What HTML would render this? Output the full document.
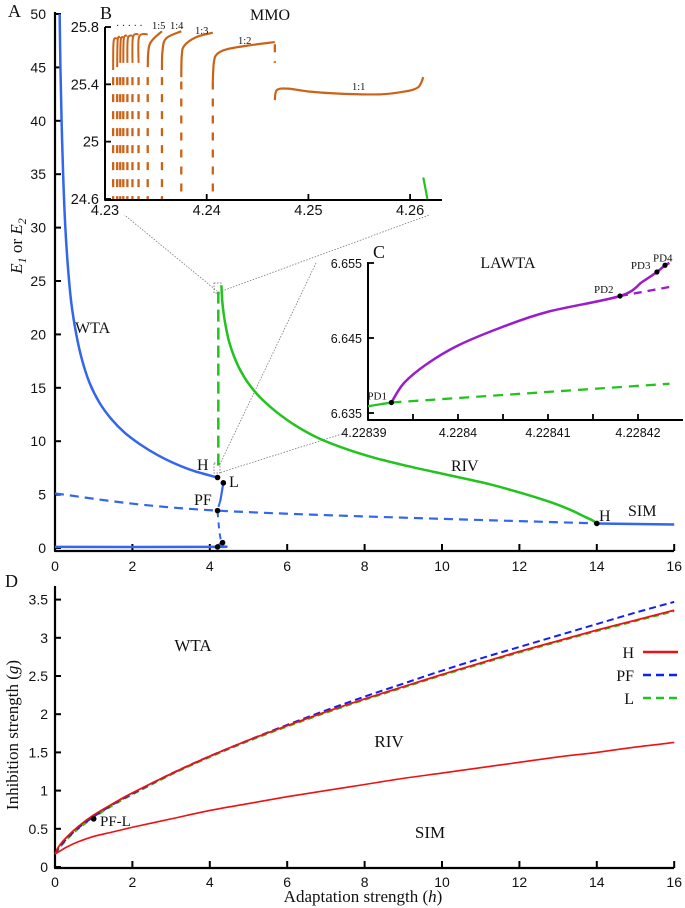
<!DOCTYPE html>
<html><head><meta charset="utf-8">
<style>
html,body{margin:0;padding:0;background:#fff;}
svg{display:block;}
.tk{font-family:"Liberation Sans",sans-serif;font-size:14px;fill:#111;}
.tkb{font-family:"Liberation Sans",sans-serif;font-size:14.5px;fill:#111;}
.tks{font-family:"Liberation Sans",sans-serif;font-size:12.5px;fill:#111;}
.sf{font-family:"Liberation Serif",serif;fill:#111;}
</style></head>
<body>
<svg id="fig" width="685" height="908" viewBox="0 0 685 908" xmlns="http://www.w3.org/2000/svg"></svg>
<script>
// ===== Panel A data =====
const aXTicks=[0,2,4,6,8,10,12,14,16];
const aYTicks=[0,5,10,15,20,25,30,35,40,45,50];
const wtaH=[0.12,0.14,0.17,0.21,0.26,0.33,0.42,0.55,0.7,0.9,1.15,1.45,1.8,2.2,2.65,3.1,3.6,4.2];
const wtaE=[50,45,40,35,30.5,26.5,23,20,17.6,15.4,13.6,12.1,10.8,9.7,8.7,7.9,7.2,6.6];
const midDashH=[0,4.2,14];
const midDashE=[5.1,3.5,2.3];
const simH=[14,16];
const simE=[2.3,2.2];
const lowH=[0,4.1,4.2,4.3];
const lowE=[0.1,0.1,0.2,0.5];
const lBranchH=[4.35,4.3,4.27];
const lBranchE=[6.1,5.0,4.4];
const lDashH=[4.27,4.22,4.2,4.25,4.3];
const lDashE=[4.4,3.8,3.5,1.5,0.5];
const rivH=[4.3,4.32,4.36,4.42,4.5,4.62,4.78,5.0,5.3,5.7,6.2,6.8,7.5,8.3,9.2,10.2,11.2,12.1,12.8,13.3,13.65,13.88,14.0];
const rivE=[24.6,23.2,21.9,20.6,19.3,18.0,16.7,15.4,14.1,12.8,11.5,10.3,9.3,8.4,7.6,6.8,6.0,5.1,4.3,3.6,3.0,2.6,2.3];
const rivDashH=[4.22,4.22];
const rivDashE=[24.0,7.3];
const aPtsH=[4.2,4.35,4.2,14,4.2,4.33];
const aPtsE=[6.6,6.1,3.5,2.3,0.1,0.5];
// ===== Panel B data =====
const bXTicks=[4.23,4.24,4.25,4.26];
const bYTicks=[24.6,25,25.4,25.8];
const junctions=[4.2308,4.2312,4.2315,4.2318,4.2322,4.2327,4.2333,4.2342,4.2356,4.2375,4.2406,4.2467];
const junctionTop=[25.45,25.45,25.45,25.45,25.45,25.45,25.45,25.45,25.45,25.42,25.42,25.68];
const junctionBot=[24.6,24.6,24.6,24.6,24.6,24.6,24.6,24.6,24.6,24.6,24.6,25.55];
const smallLow=[25.5,25.52,25.55,25.55,25.55,25.55,25.55];
const smallTop=[25.72,25.73,25.73,25.74,25.74,25.75,25.75];
const b15H=[4.2342,4.2344,4.2356]; const b15V=[25.52,25.68,25.77];
const b14H=[4.2356,4.23565,4.2360,4.2375]; const b14V=[25.5,25.63,25.72,25.77];
const b13H=[4.2375,4.23755,4.2378,4.2390,4.2406]; const b13V=[25.45,25.6,25.67,25.73,25.76];
const b12H=[4.2406,4.2407,4.2410,4.2420,4.2440,4.2467]; const b12V=[25.42,25.55,25.61,25.645,25.67,25.695];
const b11H=[4.2467,4.2469,4.2480,4.2500,4.2530,4.2570,4.2595,4.2608,4.2613]; const b11V=[25.29,25.36,25.37,25.35,25.335,25.33,25.35,25.38,25.45];
const bGreenH=[4.2613,4.2617]; const bGreenV=[24.75,24.6];
// ===== Panel C data =====
const cYTicks=[6.635,6.645,6.655];
const cXTicks=[4.22839,4.228395,4.2284,4.228405,4.22841,4.228415,4.22842];
const cXLabels=["4.22839","","4.2284","","4.22841","","4.22842"];
const purpleH=[4.2283926,4.228394,4.2283965,4.2284,4.228405,4.22841,4.228418,4.2284205,4.2284221,4.228423,4.2284235];
const purpleV=[6.6364,6.639,6.6415,6.644,6.6465,6.6485,6.6506,6.6525,6.6538,6.6547,6.655];
const purpleDashH=[4.228418,4.2284235]; const purpleDashV=[6.6506,6.6518];
const cGreenH=[4.22839,4.2283926]; const cGreenV=[6.6359,6.6364];
const cGreenDashH=[4.2283926,4.2284235]; const cGreenDashV=[6.6364,6.6389];
const cPtsH=[4.2283926,4.228418,4.2284221,4.228423];
const cPtsV=[6.6364,6.6506,6.6538,6.6547];
const cPtsL=["PD1","PD2","PD3","PD4"];
// ===== Panel D data =====
const dXTicks=[0,2,4,6,8,10,12,14,16];
const dYTicks=[0,0.5,1,1.5,2,2.5,3,3.5];
const dH=[0,0.1,0.3,0.6,1,1.5,2,3,4,5,6,7,8,9,10,11,12,13,14,15,16];
const hUpper=[0.17,0.27,0.39,0.53,0.68,0.83,0.97,1.22,1.45,1.66,1.85,2.03,2.2,2.36,2.52,2.67,2.82,2.96,3.1,3.23,3.36];
const pfLine=[0.17,0.25,0.37,0.51,0.66,0.82,0.96,1.22,1.45,1.66,1.86,2.05,2.23,2.4,2.57,2.73,2.88,3.03,3.18,3.33,3.47];
const lLine=[0.17,0.24,0.36,0.5,0.65,0.81,0.95,1.21,1.44,1.65,1.84,2.02,2.19,2.35,2.51,2.66,2.81,2.95,3.09,3.22,3.35];
const hLower=[0.17,0.2,0.26,0.33,0.4,0.46,0.52,0.63,0.74,0.83,0.92,1.0,1.08,1.16,1.23,1.3,1.37,1.44,1.5,1.57,1.63];

const NS="http://www.w3.org/2000/svg";
const svg=document.getElementById('fig');
function mk(tag,attrs,parent){const e=document.createElementNS(NS,tag);for(const k in attrs)e.setAttribute(k,attrs[k]);(parent||svg).appendChild(e);return e;}
function txt(s,x,y,cls,anchor,size,parent){const e=mk('text',{x:x,y:y,class:cls,'text-anchor':anchor||'start'},parent);if(size)e.setAttribute('font-size',size);e.textContent=s;return e;}
function smooth(xs,ys,sx,sy){const P=xs.map((v,i)=>[sx(v),sy(ys[i])]);if(P.length<3)return 'M'+P.map(p=>p[0].toFixed(2)+','+p[1].toFixed(2)).join('L');let d='M'+P[0][0].toFixed(2)+','+P[0][1].toFixed(2);for(let i=0;i<P.length-1;i++){const p0=P[Math.max(0,i-1)],p1=P[i],p2=P[i+1],p3=P[Math.min(P.length-1,i+2)];const c1=[p1[0]+(p2[0]-p0[0])/6,p1[1]+(p2[1]-p0[1])/6],c2=[p2[0]-(p3[0]-p1[0])/6,p2[1]-(p3[1]-p1[1])/6];d+='C'+c1.map(v=>v.toFixed(2))+' '+c2.map(v=>v.toFixed(2))+' '+p2[0].toFixed(2)+','+p2[1].toFixed(2);}return d;}
function path(d,color,w,dash,parent){const e=mk('path',{d:d,fill:'none',stroke:color,'stroke-width':w,'stroke-linejoin':'round'},parent);if(dash)e.setAttribute('stroke-dasharray',dash);return e;}

const ax=h=>55+38.7*h, ay=E=>548-10.68*E;
const bx=h=>105+(h-4.23)*10170, by=v=>27+(25.8-v)*143.3;
const cx=h=>368+(h-4.22839)*9e6, cy=v=>263+(6.655-v)*7500;
const dx=h=>55+38.7*h, dy=g=>867-76.4*g;
const BLUE='#3366ee', GREEN='#22c31e', ORANGE='#cc6216', PURPLE='#9a1ccc', RED='#ee1111', DBLUE='#1122ee';
let e;

// ===== Panel A =====
const gA=mk('g',{});


e=txt('A',8,17,'sf','start',18,gA);


e=path('M105,199L217,291M440,211L222,291',"#777",0.8,'1.5,1.5',gA);


e=mk('rect',{x:214,y:283,width:7,height:10,fill:'none',stroke:'#666','stroke-width':0.8,'stroke-dasharray':'1.5,1.5'},gA);


e=path('M316,263L219,466M345,433L219,473',"#777",0.8,'1.5,1.5',gA);


e=mk('rect',{x:214,y:463,width:6,height:10,fill:'none',stroke:'#666','stroke-width':0.8,'stroke-dasharray':'1.5,1.5'},gA);


e=path('M55,12L55,551L674,551','#000',2.2,null,gA);


aXTicks.forEach(t=>{const x=ax(t);path('M'+x+',551L'+x+',544','#000',2,null,gA);e=txt(String(t),x,571,'tk','middle',null,gA);

});
aYTicks.forEach(t=>{const y=ay(t);path('M55,'+y+'L61,'+y,'#000',2,null,gA);e=txt(String(t),46,y+5,'tk','end',null,gA);

});
e=mk('text',{x:0,y:0,class:'sf','font-size':17,'font-style':'italic',transform:'translate(22,246) rotate(-90)','text-anchor':'middle'},gA);
e.innerHTML='E<tspan font-size="12" dy="4">1</tspan><tspan dy="-4" font-style="normal"> or </tspan>E<tspan font-size="12" dy="4">2</tspan>';


e=path(smooth(wtaH,wtaE,ax,ay),BLUE,2.5,null,gA);


e=path(smooth(midDashH,midDashE,ax,ay),BLUE,2.2,'9,6',gA);


e=path(smooth(simH,simE,ax,ay),BLUE,2.5,null,gA);


e=path(smooth(lowH,lowE,ax,ay),BLUE,2.5,null,gA);


e=path(smooth(lBranchH,lBranchE,ax,ay),BLUE,2.2,null,gA);


e=path(smooth(lDashH,lDashE,ax,ay),BLUE,2,'6,5',gA);


e=path(smooth(rivDashH,rivDashE,ax,ay),GREEN,2.5,'12,6',gA);


e=path(smooth(rivH,rivE,ax,ay),GREEN,2.5,null,gA);


aPtsH.forEach((h,i)=>{e=mk('circle',{cx:ax(h),cy:ay(aPtsE[i]),r:2.8,fill:'#000'},gA);

});
[['WTA',75,333,'label-wta'],['RIV',451,471,'label-riv'],['SIM',628,516,'label-sim'],['H',197,470,'label-h'],['L',229,487,'label-l'],['PF',194,505,'label-pf'],['H',599,521,'label-h-right']].forEach(a=>{e=txt(a[0],a[1],a[2],'sf','start',16,gA);

});

// ===== Panel B =====
const gB=mk('g',{});


mk('rect',{x:103,y:20,width:345,height:195,fill:'#fff'},gB);
e=txt('B',100,19,'sf','start',18,gB);


e=txt('MMO',270,20,'sf','middle',16,gB);


e=path('M105,27L105,200L442,200','#000',2,null,gB);


bXTicks.forEach(t=>{const x=bx(t);path('M'+x+',200L'+x+',194','#000',1.8,null,gB);e=txt(String(t),x,215,'tkb','middle',null,gB);

});
bYTicks.forEach(t=>{const y=by(t);path('M105,'+y+'L111,'+y,'#000',1.8,null,gB);e=txt(String(t),99,y+5,'tkb','end',null,gB);

});
junctions.forEach((h,i)=>{e=path('M'+bx(h)+','+by(junctionTop[i])+'L'+bx(h)+','+by(junctionBot[i]),ORANGE,2.3,'8,9',gB);

});
smallLow.forEach((lo,i)=>{const a=junctions[i],b=junctions[i+1];e=path(smooth([a,a+0.00005,b],[lo,smallTop[i]-0.02,smallTop[i]],bx,by),ORANGE,2,null,gB);

});
[[b15H,b15V,'mmo-1-5'],[b14H,b14V,'mmo-1-4'],[b13H,b13V,'mmo-1-3'],[b12H,b12V,'mmo-1-2'],[b11H,b11V,'mmo-1-1']].forEach(a=>{e=path(smooth(a[0],a[1],bx,by),ORANGE,2.2,null,gB);

});
e=path(smooth(bGreenH,bGreenV,bx,by),GREEN,2.2,null,gB);


e=txt('· · · · ·',116,29,'sf','start',10,gB);


[['1:5',152,29],['1:4',170,29],['1:3',195,34],['1:2',238,44],['1:1',352,90]].forEach(a=>{e=txt(a[0],a[1],a[2],'sf','start',10.5,gB);

});

// ===== Panel C =====
const gC=mk('g',{});


e=txt('C',373,258,'sf','start',18,gC);


e=txt('LAWTA',508,268,'sf','middle',16,gC);


e=path('M368,262L368,420L683,420','#000',2,null,gC);


cYTicks.forEach(t=>{const y=cy(t);path('M368,'+y+'L374,'+y,'#000',1.8,null,gC);e=txt(String(t),362,y+5,'tks','end',null,gC);

});
cXTicks.forEach((t,i)=>{const x=cx(t);path('M'+x+',420L'+x+',414','#000',1.8,null,gC);if(cXLabels[i]){e=txt(cXLabels[i],i===0?x-4:x,437,'tks','middle',null,gC);

}});
e=path(smooth(cGreenDashH,cGreenDashV,cx,cy),GREEN,2.3,'10,7',gC);


e=path(smooth(cGreenH,cGreenV,cx,cy),GREEN,2.3,null,gC);


e=path(smooth(purpleDashH,purpleDashV,cx,cy),PURPLE,2.3,'8,6',gC);


e=path(smooth(purpleH,purpleV,cx,cy),PURPLE,2.5,null,gC);


cPtsH.forEach((h,i)=>{const x=cx(h),y=cy(cPtsV[i]);e=mk('circle',{cx:x,cy:y,r:2.6,fill:'#000'},gC);


e=txt(cPtsL[i],i===0?x-24:(i===3?x-12:x-26),i===0?y-3:(i===3?y-4:y-3),'sf','start',11,gC);

});

// ===== Panel D =====
const gD=mk('g',{});


e=txt('D',5,587,'sf','start',18,gD);


e=path('M55,586L55,868L674,868','#000',2.2,null,gD);


dXTicks.forEach(t=>{const x=dx(t);path('M'+x+',868L'+x+',861','#000',2,null,gD);e=txt(String(t),x,887,'tk','middle',null,gD);

});
dYTicks.forEach(t=>{const y=dy(t);path('M55,'+y+'L61,'+y,'#000',2,null,gD);e=txt(String(t),48,y+5,'tk','end',null,gD);

});
e=txt('',363,902,'sf','middle',17,gD);
e.innerHTML='Adaptation strength (<tspan font-style="italic">h</tspan>)';


e=mk('text',{x:0,y:0,class:'sf','font-size':17,transform:'translate(18,735) rotate(-90)','text-anchor':'middle'},gD);
e.innerHTML='Inhibition strength (<tspan font-style="italic">g</tspan>)';


e=path(smooth(dH,lLine,dx,dy),GREEN,2.2,'6,4',gD);


e=path(smooth(dH,pfLine,dx,dy),DBLUE,2,'7,4',gD);


e=path(smooth(dH,hUpper,dx,dy),RED,1.8,null,gD);


e=path(smooth(dH,hLower,dx,dy),RED,1.6,null,gD);


e=mk('circle',{cx:dx(1),cy:dy(0.63),r:2.8,fill:'#000'},gD);


e=txt('PF-L',100,826,'sf','start',15,gD);


[['WTA',193,651,'d-label-wta'],['RIV',389,747,'d-label-riv'],['SIM',430,838,'d-label-sim']].forEach(a=>{e=txt(a[0],a[1],a[2],'sf','middle',17,gD);

});
const gL=mk('g',{},gD);


[['H',RED,null,652,'legend-h'],['PF',DBLUE,'8,5',675,'legend-pf'],['L',GREEN,'8,5',698,'legend-l']].forEach(a=>{e=txt(a[0],634,a[3]+6,'sf','end',16,gL);


e=path('M643,'+a[3]+'L678,'+a[3],a[1],2.5,a[2],gL);

});
</script>
</body></html>
